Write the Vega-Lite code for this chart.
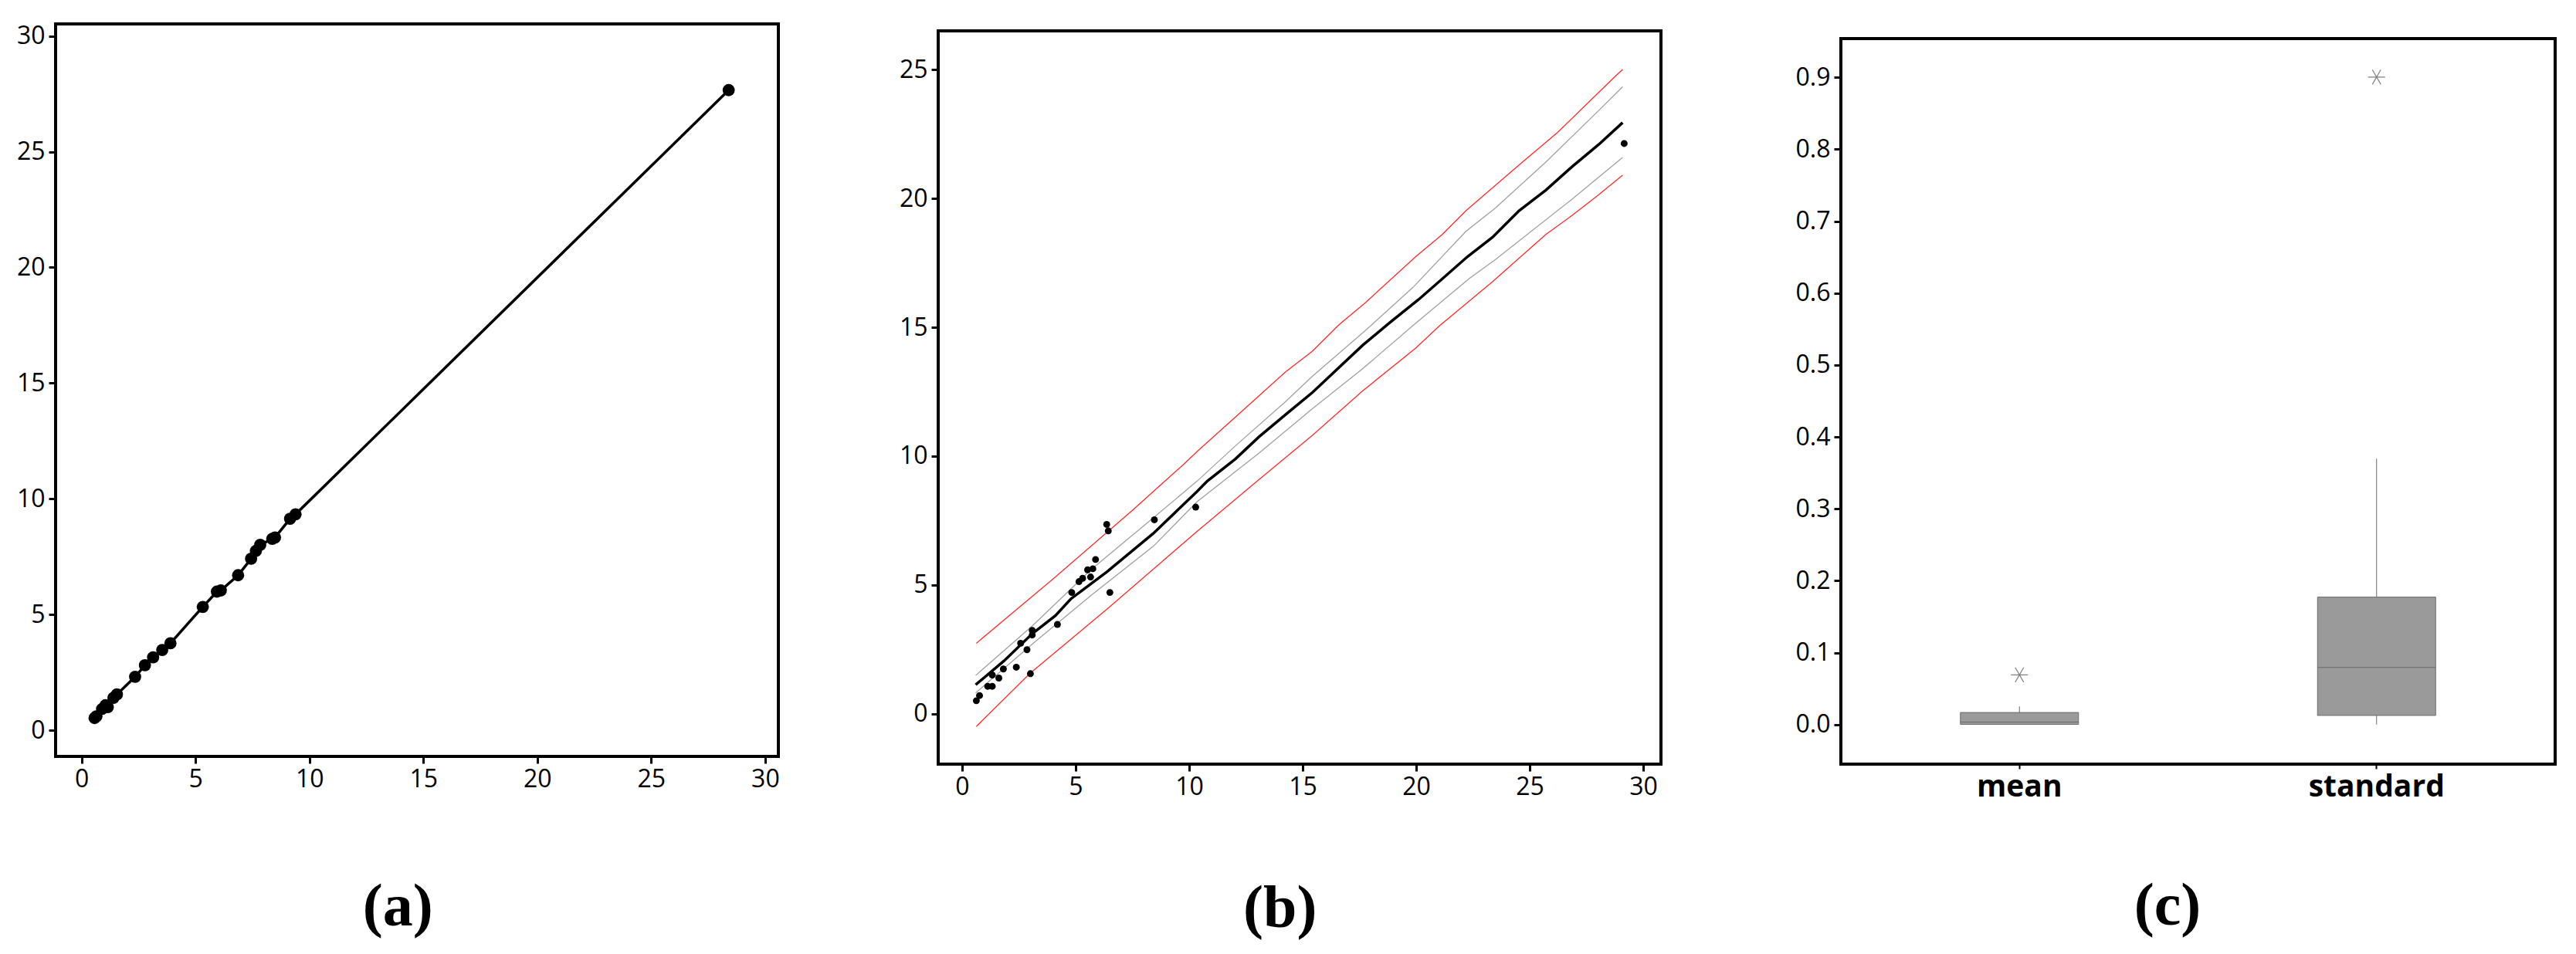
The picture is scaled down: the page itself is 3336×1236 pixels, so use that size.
{
  "$schema": "https://vega.github.io/schema/vega-lite/v6.json",
  "background": "white",
  "padding": {"left": 19, "top": 28, "right": 10, "bottom": 0},
  "autosize": {"type": "pad"},
  "spacing": 150,
  "config": {
    "view": {"stroke": "black", "strokeWidth": 4},
    "axis": {"domain": false, "grid": false, "tickColor": "black", "tickWidth": 3, "tickSize": 9, "labelFont": "Open Sans", "labelFontSize": 32, "labelColor": "black", "labelPadding": 5, "labelFlush": false, "labelOverlap": false}
  },
  "datasets": {
    "a_points": [
      {"x": 0.57, "y": 0.53}, {"x": 0.65, "y": 0.6}, {"x": 0.9, "y": 0.92}, {"x": 1.05, "y": 1.08}, {"x": 1.15, "y": 1.0},
      {"x": 1.4, "y": 1.4}, {"x": 1.55, "y": 1.55}, {"x": 2.35, "y": 2.31}, {"x": 2.78, "y": 2.81}, {"x": 3.14, "y": 3.15},
      {"x": 3.54, "y": 3.47}, {"x": 3.9, "y": 3.76}, {"x": 5.32, "y": 5.33}, {"x": 5.94, "y": 5.99}, {"x": 6.11, "y": 6.04},
      {"x": 6.87, "y": 6.7}, {"x": 7.44, "y": 7.41}, {"x": 7.65, "y": 7.75}, {"x": 7.84, "y": 8.01}, {"x": 8.37, "y": 8.27},
      {"x": 8.49, "y": 8.33}, {"x": 9.15, "y": 9.14}, {"x": 9.39, "y": 9.33}, {"x": 28.4, "y": 27.66}
    ],
    "b_points": [
      {"x": 0.63, "y": 0.51}, {"x": 0.77, "y": 0.71}, {"x": 1.13, "y": 1.07}, {"x": 1.33, "y": 1.07}, {"x": 1.33, "y": 1.51},
      {"x": 1.62, "y": 1.39}, {"x": 1.82, "y": 1.74}, {"x": 2.39, "y": 1.81}, {"x": 2.58, "y": 2.74}, {"x": 2.86, "y": 2.49},
      {"x": 3.01, "y": 1.56}, {"x": 3.09, "y": 3.24}, {"x": 3.09, "y": 3.06}, {"x": 4.2, "y": 3.47}, {"x": 4.83, "y": 4.71},
      {"x": 5.15, "y": 5.13}, {"x": 5.31, "y": 5.26}, {"x": 5.53, "y": 5.59}, {"x": 5.76, "y": 5.63}, {"x": 5.66, "y": 5.31},
      {"x": 5.88, "y": 5.99}, {"x": 6.37, "y": 7.35}, {"x": 6.44, "y": 7.1}, {"x": 6.51, "y": 4.71}, {"x": 8.47, "y": 7.53},
      {"x": 10.29, "y": 8.02}, {"x": 29.16, "y": 22.13}
    ],
    "b_fit": [
      {"x": 0.6, "y": 1.13}, {"x": 1.84, "y": 2.05}, {"x": 3.09, "y": 3.11}, {"x": 4.11, "y": 3.81}, {"x": 4.79, "y": 4.46},
      {"x": 6.38, "y": 5.51}, {"x": 8.42, "y": 7.0}, {"x": 10.35, "y": 8.63}, {"x": 10.8, "y": 9.03}, {"x": 12.04, "y": 9.89},
      {"x": 13.08, "y": 10.75}, {"x": 14.25, "y": 11.61}, {"x": 15.43, "y": 12.47}, {"x": 16.47, "y": 13.33}, {"x": 17.64, "y": 14.3},
      {"x": 18.81, "y": 15.16}, {"x": 20.11, "y": 16.08}, {"x": 21.15, "y": 16.88}, {"x": 22.26, "y": 17.74}, {"x": 23.36, "y": 18.49},
      {"x": 24.53, "y": 19.52}, {"x": 25.71, "y": 20.32}, {"x": 26.88, "y": 21.24}, {"x": 28.05, "y": 22.1}, {"x": 29.09, "y": 22.94}
    ],
    "b_ci_hi": [
      {"x": 0.6, "y": 1.49}, {"x": 3.09, "y": 3.41}, {"x": 5.7, "y": 5.61}, {"x": 8.42, "y": 7.6}, {"x": 10.35, "y": 9.03},
      {"x": 12.04, "y": 10.4}, {"x": 14.25, "y": 12.12}, {"x": 15.43, "y": 13.1}, {"x": 17.77, "y": 14.88}, {"x": 19.85, "y": 16.54},
      {"x": 22.19, "y": 18.72}, {"x": 23.49, "y": 19.63}, {"x": 25.71, "y": 21.41}, {"x": 28.05, "y": 23.42}, {"x": 29.09, "y": 24.33}
    ],
    "b_ci_lo": [
      {"x": 0.6, "y": 0.81}, {"x": 3.09, "y": 2.71}, {"x": 5.7, "y": 4.61}, {"x": 8.42, "y": 6.5}, {"x": 10.35, "y": 8.23},
      {"x": 13.08, "y": 10.12}, {"x": 15.43, "y": 11.84}, {"x": 17.64, "y": 13.39}, {"x": 19.98, "y": 15.16}, {"x": 22.32, "y": 16.88},
      {"x": 23.49, "y": 17.63}, {"x": 26.88, "y": 19.98}, {"x": 29.09, "y": 21.59}
    ],
    "b_pi_hi": [
      {"x": 0.63, "y": 2.74}, {"x": 4.11, "y": 5.31}, {"x": 7.51, "y": 7.9}, {"x": 9.78, "y": 9.7}, {"x": 10.35, "y": 10.18},
      {"x": 12.95, "y": 12.24}, {"x": 14.25, "y": 13.27}, {"x": 15.43, "y": 14.07}, {"x": 16.6, "y": 15.1}, {"x": 17.77, "y": 15.96},
      {"x": 19.98, "y": 17.74}, {"x": 21.15, "y": 18.6}, {"x": 22.19, "y": 19.52}, {"x": 24.53, "y": 21.3}, {"x": 26.23, "y": 22.56},
      {"x": 28.7, "y": 24.68}, {"x": 29.09, "y": 25.0}
    ],
    "b_pi_lo": [
      {"x": 0.63, "y": -0.49}, {"x": 2.98, "y": 1.56}, {"x": 6.38, "y": 4.06}, {"x": 10.35, "y": 7.08}, {"x": 13.08, "y": 9.09},
      {"x": 15.43, "y": 10.81}, {"x": 17.64, "y": 12.53}, {"x": 19.98, "y": 14.19}, {"x": 21.02, "y": 15.05}, {"x": 23.36, "y": 16.77},
      {"x": 25.71, "y": 18.6}, {"x": 26.88, "y": 19.35}, {"x": 28.05, "y": 20.15}, {"x": 29.09, "y": 20.9}
    ],
    "c_box": [
      {"group": "mean", "lower": 0.0, "q1": 0.0003, "median": 0.0034, "q3": 0.0168, "upper": 0.0253},
      {"group": "standard", "lower": 0.0, "q1": 0.0127, "median": 0.0794, "q3": 0.1773, "upper": 0.3697}
    ],
    "c_outliers": [
      {"group": "mean", "value": 0.0692},
      {"group": "standard", "value": 0.9005}
    ],
    "empty": []
  },
  "hconcat": [
    {
      "width": 936,
      "height": 949,
      "title": {"text": "(a)", "orient": "bottom", "frame": "bounds", "anchor": "middle", "offset": 112, "font": "Liberation Serif", "fontSize": 78, "fontWeight": "bold", "color": "black"},
      "data": {"name": "a_points"},
      "encoding": {
        "x": {"field": "x", "type": "quantitative", "title": null, "scale": {"domain": [-1.14, 30.58], "nice": false, "zero": false}, "axis": {"values": [0, 5, 10, 15, 20, 25, 30]}},
        "y": {"field": "y", "type": "quantitative", "title": null, "scale": {"domain": [-1.13, 30.52], "nice": false, "zero": false}, "axis": {"values": [0, 5, 10, 15, 20, 25, 30]}}
      },
      "layer": [
        {"mark": {"type": "line", "color": "black", "strokeWidth": 3.5}, "encoding": {}},
        {"mark": {"type": "point", "filled": true, "color": "black", "size": 250, "opacity": 1}}
      ]
    },
    {
      "spacing": 6,
      "vconcat": [
        {"width": 1, "height": 1, "view": {"stroke": null}, "data": {"name": "empty"}, "mark": "point"},
        {
          "width": 936,
          "height": 950,
          "title": {"text": "(b)", "orient": "bottom", "frame": "bounds", "anchor": "middle", "offset": 104, "font": "Liberation Serif", "fontSize": 78, "fontWeight": "bold", "color": "black"},
          "layer": [
            {
              "data": {"name": "b_pi_hi"},
              "mark": {"type": "line", "color": "#ff2a2a", "strokeWidth": 1.3},
              "encoding": {
                "x": {"field": "x", "type": "quantitative", "title": null, "scale": {"domain": [-1.05, 30.78], "nice": false, "zero": false}, "axis": {"values": [0, 5, 10, 15, 20, 25, 30]}},
                "y": {"field": "y", "type": "quantitative", "title": null, "scale": {"domain": [-1.95, 26.5], "nice": false, "zero": false}, "axis": {"values": [0, 5, 10, 15, 20, 25]}}
              }
            },
            {
              "data": {"name": "b_pi_lo"},
              "mark": {"type": "line", "color": "#ff2a2a", "strokeWidth": 1.3},
              "encoding": {"x": {"field": "x", "type": "quantitative"}, "y": {"field": "y", "type": "quantitative"}}
            },
            {
              "data": {"name": "b_ci_hi"},
              "mark": {"type": "line", "color": "#a0a0a0", "strokeWidth": 1.3},
              "encoding": {"x": {"field": "x", "type": "quantitative"}, "y": {"field": "y", "type": "quantitative"}}
            },
            {
              "data": {"name": "b_ci_lo"},
              "mark": {"type": "line", "color": "#a0a0a0", "strokeWidth": 1.3},
              "encoding": {"x": {"field": "x", "type": "quantitative"}, "y": {"field": "y", "type": "quantitative"}}
            },
            {
              "data": {"name": "b_fit"},
              "mark": {"type": "line", "color": "black", "strokeWidth": 3.5},
              "encoding": {"x": {"field": "x", "type": "quantitative"}, "y": {"field": "y", "type": "quantitative"}}
            },
            {
              "data": {"name": "b_points"},
              "mark": {"type": "point", "filled": true, "color": "black", "size": 80, "opacity": 1},
              "encoding": {"x": {"field": "x", "type": "quantitative"}, "y": {"field": "y", "type": "quantitative"}}
            }
          ]
        }
      ]
    },
    {
      "spacing": 16,
      "vconcat": [
        {"width": 1, "height": 1, "view": {"stroke": null}, "data": {"name": "empty"}, "mark": "point"},
        {
          "width": 925,
          "height": 940,
          "title": {"text": "(c)", "orient": "bottom", "frame": "bounds", "anchor": "middle", "offset": 97, "font": "Liberation Serif", "fontSize": 78, "fontWeight": "bold", "color": "black"},
          "layer": [
            {
              "data": {"name": "c_box"},
              "mark": {"type": "rule", "color": "#6b6b6b", "strokeWidth": 1},
              "encoding": {
                "x": {"field": "group", "type": "nominal", "title": null, "scale": {"type": "band", "domain": ["mean", "standard"], "paddingInner": 0, "paddingOuter": 0}, "axis": {"labelFont": "Open Sans", "labelFontSize": 39, "labelFontWeight": "bold", "tickSize": 6, "tickWidth": 2, "labelAngle": 0, "labelPadding": 4}},
                "y": {"field": "lower", "type": "quantitative", "title": null, "scale": {"domain": [-0.055, 0.954], "nice": false, "zero": false}, "axis": {"values": [0, 0.1, 0.2, 0.3, 0.4, 0.5, 0.6, 0.7, 0.8, 0.9], "format": ".1f", "minExtent": 79}},
                "y2": {"field": "q1"}
              }
            },
            {
              "data": {"name": "c_box"},
              "mark": {"type": "rule", "color": "#6b6b6b", "strokeWidth": 1},
              "encoding": {
                "x": {"field": "group", "type": "nominal", "scale": {"type": "band"}},
                "y": {"field": "q3", "type": "quantitative"},
                "y2": {"field": "upper"}
              }
            },
            {
              "data": {"name": "c_box"},
              "mark": {"type": "bar", "fill": "#9a9a9a", "stroke": "#6b6b6b", "strokeWidth": 1, "size": 153},
              "encoding": {
                "x": {"field": "group", "type": "nominal", "scale": {"type": "band"}},
                "y": {"field": "q1", "type": "quantitative"},
                "y2": {"field": "q3"}
              }
            },
            {
              "data": {"name": "c_box"},
              "mark": {"type": "tick", "color": "#555555", "thickness": 1, "size": 153},
              "encoding": {
                "x": {"field": "group", "type": "nominal", "scale": {"type": "band"}},
                "y": {"field": "median", "type": "quantitative"}
              }
            },
            {
              "data": {"name": "c_outliers"},
              "mark": {"type": "point", "shape": "M-1,0L1,0M-0.5,-0.87L0.5,0.87M-0.5,0.87L0.5,-0.87", "filled": false, "stroke": "#808080", "strokeWidth": 1.2, "size": 484, "opacity": 1},
              "encoding": {
                "x": {"field": "group", "type": "nominal", "scale": {"type": "band"}},
                "y": {"field": "value", "type": "quantitative"}
              }
            }
          ]
        }
      ]
    }
  ]
}
